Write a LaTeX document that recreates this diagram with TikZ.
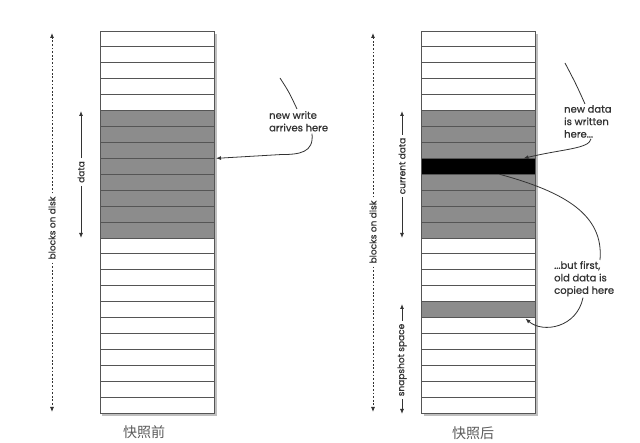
\documentclass[tikz,border=0pt]{standalone}
\usepackage{fontspec}
\newfontfamily\cjk{Noto Sans CJK SC}
\newfontfamily\lbl{Poppins}[UprightFeatures={FakeBold=0.8}]
\usetikzlibrary{arrows.meta,calc}
\definecolor{blkgray}{HTML}{8C8C8C}
\definecolor{edge}{HTML}{555555}
\definecolor{ink}{HTML}{333333}
\tikzset{
  blk/.style={draw=edge, line width=0.9pt, minimum width=114pt, minimum height=15.92pt, inner sep=0pt, outer sep=0pt},
  wblk/.style={blk, fill=white},
  gblk/.style={blk, fill=blkgray},
  kblk/.style={blk, fill=black},
  pen/.style={draw=ink, line width=0.8pt},
  tip/.style={-{Latex[length=5pt,width=4pt]}},
  dotarrow/.style={pen, dash pattern=on 1.8pt off 1.8pt, -{Latex[length=5pt,width=4pt]}},
  solarrow/.style={pen, line width=0.9pt, -{Latex[length=5pt,width=4pt]}},
  vlab/.style={rotate=90, text=ink, font=\lbl\fontsize{9}{10}\selectfont, inner sep=3pt},
  note/.style={text=ink, font=\lbl\fontsize{10}{12.5}\selectfont, align=left, inner sep=1pt},
  captext/.style={text=ink!80, font=\cjk\fontsize{14}{16}\selectfont}
}
\begin{document}
\begin{tikzpicture}[x=1pt,y=-1pt]
\useasboundingbox (0,0) rectangle (640,443);
\fill[white] (0,0) rectangle (640,443);
% shadows
\fill[black!25] (102,34) rectangle (217,416);
\fill[black!25] (424,34) rectangle (538,416);
% left stack
\foreach \i in {0,1,2,3,4,13,14,15,16,17,18,19,20,21,22,23}
  \node[wblk] (L\i) at (157,{31+15.92*(\i+0.5)}) {};
\foreach \i in {5,6,7,8,9,10,11,12}
  \node[gblk] (L\i) at (157,{31+15.92*(\i+0.5)}) {};
% right stack
\foreach \i in {0,1,2,3,4,13,14,15,16,18,19,20,21,22,23}
  \node[wblk] (R\i) at (478.5,{31+15.92*(\i+0.5)}) {};
\foreach \i in {5,6,7,9,10,11,12,17}
  \node[gblk] (R\i) at (478.5,{31+15.92*(\i+0.5)}) {};
\node[kblk] (R8) at (478.5,{31+15.92*8.5}) {};

% vertical labels left
\node[vlab] (bodL) at (52,228) {blocks on disk};
\coordinate (bodLt) at (52,33);
\coordinate (bodLb) at (52,412);
\draw[dotarrow] (bodL.east) -- (bodLt);
\draw[dotarrow] (bodL.west) -- (bodLb);
\node[vlab] (dataL) at (81,172) {data};
\coordinate (dataLt) at (81,111);
\coordinate (dataLb) at (81,238);
\draw[solarrow] (dataL.east) -- (dataLt);
\draw[solarrow] (dataL.west) -- (dataLb);

% vertical labels right
\node[vlab] (bodR) at (373,232) {blocks on disk};
\coordinate (bodRt) at (373,33);
\coordinate (bodRb) at (373,412);
\draw[dotarrow] (bodR.east) -- (bodRt);
\draw[dotarrow] (bodR.west) -- (bodRb);
\node[vlab] (curR) at (402,166) {current data};
\coordinate (curRt) at (402,111);
\coordinate (curRb) at (402,238);
\draw[solarrow] (curR.east) -- (curRt);
\draw[solarrow] (curR.west) -- (curRb);
\node[vlab] (snapR) at (402,360) {snapshot space};
\coordinate (snapRt) at (402,304);
\coordinate (snapRb) at (402,414);
\draw[solarrow] (snapR.east) -- (snapRt);
\draw[solarrow] (snapR.west) -- (snapRb);

% notes
\node[note, anchor=north west] (nw) at (268,110) {new write\\arrives here};
\coordinate (nwtail) at (280,78);
\draw[pen] (nwtail) .. controls (289,92) .. ($(nw.north west)+(29,-1)$);
\draw[pen, tip] ($(nw.south west)+(44,1)$) .. controls ($(nw.south west)+(46,20)$) and ($(nw.south west)+(32,22)$) .. ($(nw.south west)+(12,22)$) -- ($(L7.south east)+(2,0)$);

\node[note, anchor=north west] (nd) at (563,104) {new data\\is written\\here...};
\coordinate (ndtail) at (565,63);
\draw[pen] (ndtail) .. controls (576,84) .. ($(nd.north west)+(22,0)$);
\draw[pen, tip] ($(nd.south west)+(28,0)$) .. controls ($(nd.south west)+(26,10)$) and ($(nd.south west)+(0,10)$) .. ($(R8.north east)+(-12,0)$);

\node[note, anchor=north west] (bf) at (553,260) {...but first,\\old data is\\copied here};
\draw[pen] ($(R8.south)+(21,0)$) .. controls (565,192) and (604,215) .. ($(bf.north west)+(47,0)$);
\draw[pen, tip] ($(bf.south west)+(30,0)$) .. controls ($(bf.south west)+(24,30)$) and ($(bf.south west)+(-10,36)$) .. ($(R17.south east)+(-10,1)$);

% captions
\node[captext] (capL) at (144,432) {快照前};
\node[captext] (capR) at (473,433) {快照后};
\end{tikzpicture}
\end{document}
